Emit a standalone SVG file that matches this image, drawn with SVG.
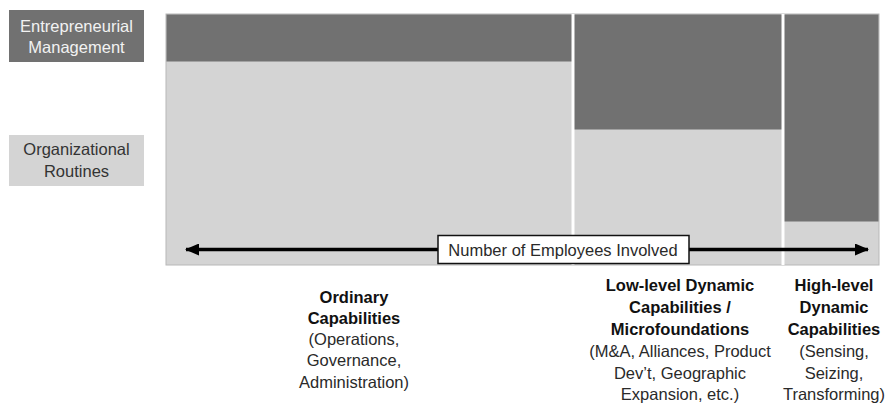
<svg xmlns="http://www.w3.org/2000/svg" width="886" height="404" viewBox="0 0 886 404">
<style>
text{font-family:"Liberation Sans",Arial,sans-serif;text-anchor:middle}
.dark{fill:#717171}
.light{fill:#d4d4d4}
.leg{font-size:16.5px}
.lab{font-size:16.5px;fill:#2a2a2a}
.b{font-weight:bold;fill:#111}
.sep{stroke:#ffffff;stroke-width:3}
</style>
<defs>
<marker id="ah" viewBox="0 0 14 12" refX="13" refY="6" markerWidth="14" markerHeight="12" markerUnits="userSpaceOnUse" orient="auto-start-reverse">
<path d="M0,0 L14,6 L0,12 Z" fill="#000"/>
</marker>
</defs>
<rect width="886" height="404" fill="#fff"/>
<g id="legend-entrepreneurial">
<rect x="9" y="10" width="135" height="52" class="dark"/>
<text class="leg" x="76.5" y="31.5" fill="#f2f2f2">Entrepreneurial</text>
<text class="leg" x="76.5" y="52.5" fill="#f2f2f2">Management</text>
</g>
<g id="legend-routines">
<rect x="9" y="135" width="135" height="51" class="light"/>
<text class="leg" x="76.5" y="155" fill="#333">Organizational</text>
<text class="leg" x="76.5" y="177" fill="#333">Routines</text>
</g>
<g id="chart">
<rect x="166" y="14" width="713" height="251" class="light" stroke="#b8b8b8" stroke-width="1"/>
<rect x="166.5" y="14.5" width="406" height="47" class="dark"/>
<rect x="574" y="14.5" width="208" height="115" class="dark"/>
<rect x="784" y="14.5" width="94.5" height="207" class="dark"/>
<line x1="573" y1="14" x2="573" y2="265" class="sep"/>
<line x1="783" y1="14" x2="783" y2="265" class="sep"/>
</g>
<g id="connectors">
<line x1="186" y1="249.5" x2="868" y2="249.5" stroke="#000" stroke-width="3.5" marker-start="url(#ah)" marker-end="url(#ah)"/>
</g>
<g id="axis-label">
<rect x="438" y="235.5" width="251" height="28" fill="#fff" stroke="#111" stroke-width="1.5"/>
<text class="lab" x="563" y="255.5" fill="#2a2a2a">Number of Employees Involved</text>
</g>
<g id="ordinary">
<text class="lab b" x="354" y="302.5">Ordinary</text>
<text class="lab b" x="354" y="323.5">Capabilities</text>
<text class="lab" x="354" y="345">(Operations,</text>
<text class="lab" x="354" y="366">Governance,</text>
<text class="lab" x="354" y="387.5">Administration)</text>
</g>
<g id="low-level">
<text class="lab b" x="680" y="291">Low-level Dynamic</text>
<text class="lab b" x="680" y="313">Capabilities /</text>
<text class="lab b" x="680" y="335">Microfoundations</text>
<text class="lab" x="680" y="357">(M&amp;A, Alliances, Product</text>
<text class="lab" x="680" y="378.5">Dev’t, Geographic</text>
<text class="lab" x="680" y="400">Expansion, etc.)</text>
</g>
<g id="high-level">
<text class="lab b" x="834" y="291">High-level</text>
<text class="lab b" x="834" y="313">Dynamic</text>
<text class="lab b" x="834" y="335">Capabilities</text>
<text class="lab" x="834" y="357">(Sensing,</text>
<text class="lab" x="834" y="378.5">Seizing,</text>
<text class="lab" x="834" y="400">Transforming)</text>
</g>
</svg>
